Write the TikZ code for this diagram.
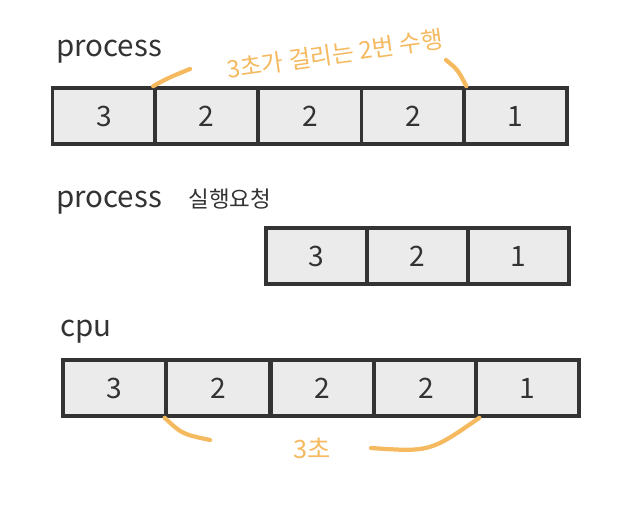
\documentclass[tikz,border=0pt]{standalone}
\usepackage{fontspec}
\setmainfont{Noto Sans CJK KR}
\definecolor{boxfill}{HTML}{EBEBEB}
\definecolor{boxline}{HTML}{333333}
\definecolor{memoorange}{HTML}{F5B95F}
\begin{document}
\begin{tikzpicture}[x=0.025cm,y=-0.025cm,
  cell/.style={draw=boxline,fill=boxfill,line width=2.6pt,minimum width=2.575cm,minimum height=1.4cm,inner sep=0pt,text=boxline,font=\fontsize{20}{24}\selectfont},
  title/.style={anchor=base west,inner sep=0pt,text=boxline,font=\fontsize{21}{25}\selectfont},
  bracket/.style={draw=memoorange,line width=3pt,line cap=round},
  memotext/.style={inner sep=0pt,text=memoorange,font=\fontsize{17}{20}\selectfont}]
 \useasboundingbox (0,0) rectangle (620,510);
 % titles
 \node[title] (tproc) at (56,57) {process};
 \node[title] (treq) at (56,208) {process\hspace{0.9em}{\fontsize{16}{19}\selectfont 실행요청}};
 \node[title] (tcpu) at (60,337) {cpu};
 % process
 \node[cell] (p1) at (104,116) {3};
 \node[cell] (p2) at (206.5,116) {2};
 \node[cell] (p3) at (310,116) {2};
 \node[cell] (p4) at (413,116) {2};
 \node[cell] (p5) at (515.5,116) {1};
 % request
 \node[cell,minimum width=2.525cm] (r1) at (316.5,256) {3};
 \node[cell,minimum width=2.525cm] (r2) at (417.5,256) {2};
 \node[cell,minimum width=2.525cm] (r3) at (518.5,256) {1};
 % cpu
 \node[cell] (c1) at (114.5,388) {3};
 \node[cell] (c2) at (218,388) {2};
 \node[cell] (c3) at (322.5,388) {2};
 \node[cell] (c4) at (426,388) {2};
 \node[cell] (c5) at (527.5,388) {1};
 % notes
 \node[memotext,rotate=8] (mtop) at (335,54) {3초가 걸리는 2번 수행};
 \coordinate (mtl) at (190,69);
 \coordinate (mtr) at (446,60);
 \draw[bracket] (p2.north west) .. controls (168,78) .. (mtl);
 \draw[bracket] (mtr) .. controls (458,70) .. (p4.north east);
 \node[memotext,font=\fontsize{18}{21}\selectfont] (mbot) at (312,448) {3초};
 \coordinate (mbl) at (210,440);
 \coordinate (mbr) at (371,448);
 \draw[bracket] (c2.south west) .. controls (182,434) .. (mbl);
 \draw[bracket] (mbr) .. controls (430,452) .. (c4.south east);
\end{tikzpicture}
\end{document}
